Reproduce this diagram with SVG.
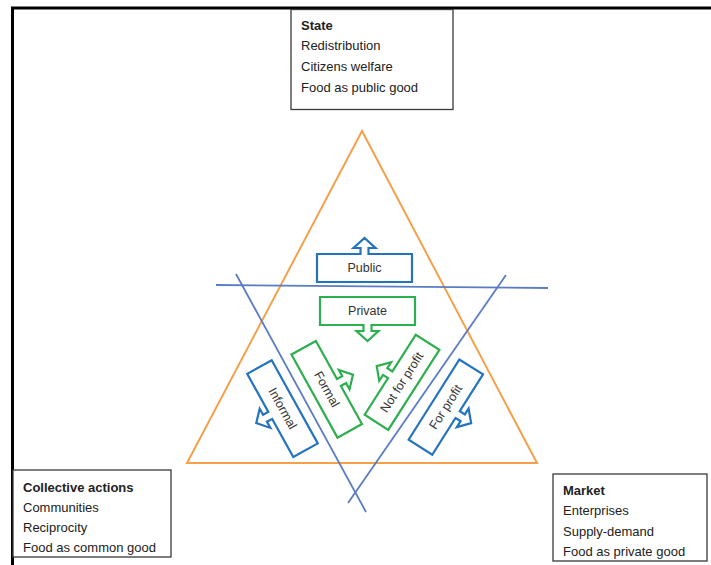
<svg xmlns="http://www.w3.org/2000/svg" width="711" height="565" viewBox="0 0 711 565">
<style>
.frame{stroke:#000;stroke-width:3;fill:none}
.box{fill:#fff;stroke:#3a3a3a;stroke-width:1.3}
.txt{font-family:"Liberation Sans",Arial,sans-serif;font-size:13px;fill:#222}
.b{font-weight:bold}
.tri{fill:none;stroke:#F4A14C;stroke-width:2}
.ln{stroke:#5A7CC3;stroke-width:1.8;fill:none}
.cb{fill:#fff;stroke:#2473C0;stroke-width:2.2;stroke-linejoin:miter}
.cg{fill:#fff;stroke:#2DAF4F;stroke-width:2.2;stroke-linejoin:miter}
.ct{font-family:"Liberation Sans",Arial,sans-serif;font-size:12.5px;fill:#333;text-anchor:middle;dominant-baseline:central}
</style>
<defs>
<path id="up" d="M-47.5,-14 H-4 V-20 H-11 L0,-30 L11,-20 H4 V-14 H47.5 V14 H-47.5 Z"/>
<path id="down" d="M-47.5,-14 H47.5 V14 H4 V20 H11 L0,30 L-11,20 H-4 V14 H-47.5 Z"/>
</defs>
<rect width="711" height="565" fill="#fff"/>
<path class="frame" d="M12.5,565 V8 H711"/>
<g id="triangle"><polygon class="tri" points="362,131 187,463 537,463"/></g>
<g id="connectors">
<line class="ln" x1="216" y1="285" x2="548" y2="288"/>
<line class="ln" x1="236" y1="274" x2="366" y2="512"/>
<line class="ln" x1="506" y1="275" x2="348" y2="503"/>
</g>
<g id="state"><rect class="box" x="291" y="9.5" width="162" height="100"/>
<text class="txt b" x="301" y="29.5">State</text>
<text class="txt" x="301" y="50">Redistribution</text>
<text class="txt" x="301" y="71">Citizens welfare</text>
<text class="txt" x="301" y="92">Food as public good</text></g>
<g id="collective"><rect class="box" x="13" y="470" width="158" height="87"/>
<text class="txt b" x="23" y="491.5">Collective actions</text>
<text class="txt" x="23" y="511.5">Communities</text>
<text class="txt" x="23" y="531.5">Reciprocity</text>
<text class="txt" x="23" y="551.5">Food as common good</text></g>
<g id="market"><rect class="box" x="553" y="474" width="154" height="87"/>
<text class="txt b" x="563" y="494.5">Market</text>
<text class="txt" x="563" y="514.5">Enterprises</text>
<text class="txt" x="563" y="535.5">Supply-demand</text>
<text class="txt" x="563" y="555.5">Food as private good</text></g>
<g id="public" transform="translate(364.5,268)"><use href="#up" class="cb"/><text class="ct" x="0" y="0">Public</text></g>
<g id="private" transform="translate(367.5,311)"><use href="#down" class="cg"/><text class="ct" x="0" y="0">Private</text></g>
<g id="informal" transform="translate(282.5,408.6) rotate(61)"><use href="#down" class="cb"/><text class="ct" x="0" y="0">Informal</text></g>
<g id="formal" transform="translate(326.7,389.3) rotate(61)"><use href="#up" class="cg"/><text class="ct" x="0" y="0">Formal</text></g>
<g id="notforprofit" transform="translate(402,382.3) rotate(-57.4)"><use href="#up" class="cg"/><text class="ct" x="0" y="0">Not for profit</text></g>
<g id="forprofit" transform="translate(445.8,407.1) rotate(-57.7)"><use href="#down" class="cb"/><text class="ct" x="0" y="0">For profit</text></g>
</svg>
